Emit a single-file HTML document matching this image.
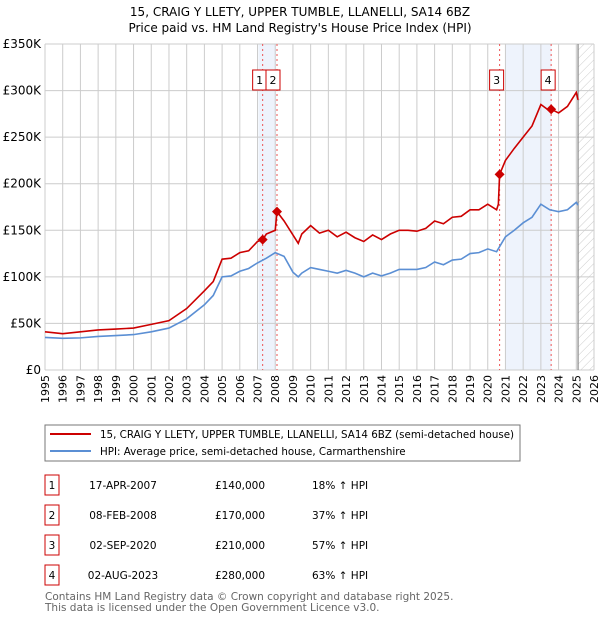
<!DOCTYPE html>
<html><head><meta charset="utf-8"><style>
body{margin:0;background:#fff;width:600px;height:620px;overflow:hidden;font-family:"DejaVu Sans","Liberation Sans",sans-serif}
svg text{font-family:"DejaVu Sans","Liberation Sans",sans-serif}
</style></head><body>
<svg id="chart" width="600" height="620" xmlns="http://www.w3.org/2000/svg">
<defs><pattern id="hatch" width="6" height="6" patternUnits="userSpaceOnUse" patternTransform="rotate(45)"><line x1="0" y1="0" x2="0" y2="6" stroke="#ccc" stroke-width="1"/></pattern></defs>
<text x="300" y="16" text-anchor="middle" font-size="12">15, CRAIG Y LLETY, UPPER TUMBLE, LLANELLI, SA14 6BZ</text>
<text x="300" y="32" text-anchor="middle" font-size="12">Price paid vs. HM Land Registry's House Price Index (HPI)</text>
<g id="plot"></g>
<rect x="45" y="425" width="475" height="36" fill="none" stroke="#777"/>
<line x1="50" y1="434" x2="91" y2="434" stroke="#cc0000" stroke-width="2"/>
<text x="100" y="438" font-size="10.3">15, CRAIG Y LLETY, UPPER TUMBLE, LLANELLI, SA14 6BZ (semi-detached house)</text>
<line x1="50" y1="451" x2="91" y2="451" stroke="#5b8fd4" stroke-width="2"/>
<text x="100" y="455" font-size="10.3">HPI: Average price, semi-detached house, Carmarthenshire</text>
<g id="table" font-size="10.5"></g>
<text x="45" y="600" font-size="10.5" fill="#666">Contains HM Land Registry data © Crown copyright and database right 2025.</text>
<text x="45" y="611" font-size="10.5" fill="#666">This data is licensed under the Open Government Licence v3.0.</text>
</svg>
<script>
const hpiYears=[1995,1996,1997,1998,1999,2000,2001,2002,2003,2004,2004.5,2005,2005.5,2006,2006.5,2007,2007.5,2008,2008.5,2009,2009.3,2009.5,2010,2010.5,2011,2011.5,2012,2012.5,2013,2013.5,2014,2014.5,2015,2015.5,2016,2016.5,2017,2017.5,2018,2018.5,2019,2019.5,2020,2020.5,2021,2021.5,2022,2022.5,2023,2023.5,2024,2024.5,2025,2025.1];
const hpiValues=[35,34,34.5,36,37,38,41,45,55,70,80,100,101,106,109,115,120,126,122,105,100,104,110,108,106,104,107,104,100,104,101,104,108,108,108,110,116,113,118,119,125,126,130,127,143,150,158,164,178,172,170,172,180,177];
const propYears=[1995,1996,1997,1998,1999,2000,2001,2002,2003,2004,2004.5,2005,2005.5,2006,2006.5,2007,2007.29,2007.5,2008,2008.1,2008.5,2009,2009.3,2009.5,2010,2010.5,2011,2011.5,2012,2012.5,2013,2013.5,2014,2014.5,2015,2015.5,2016,2016.5,2017,2017.5,2018,2018.5,2019,2019.5,2020,2020.5,2020.6,2020.67,2021,2021.5,2022,2022.5,2023,2023.5,2023.58,2024,2024.5,2025,2025.1];
const propValues=[41,39,41,43,44,45,49,53,66,85,95,119,120,126,128,138,140,146,150,170,160,145,136,146,155,147,150,143,148,142,138,145,140,146,150,150,149,152,160,157,164,165,172,172,178,172,178,210,225,238,250,262,285,278,280,276,283,298,290];
const saleLabels=["1","2","3","4"];
const saleYears=[2007.29,2008.1,2020.67,2023.58];
const saleValues=[140,170,210,280];
const saleDates=["17-APR-2007","08-FEB-2008","02-SEP-2020","02-AUG-2023"];
const salePrices=["£140,000","£170,000","£210,000","£280,000"];
const saleHpi=["18% ↑ HPI","37% ↑ HPI","57% ↑ HPI","63% ↑ HPI"];
const yTicks=[0,50,100,150,200,250,300,350];
const yTickLabels=["£0","£50K","£100K","£150K","£200K","£250K","£300K","£350K"];
const xTicks=[1995,1996,1997,1998,1999,2000,2001,2002,2003,2004,2005,2006,2007,2008,2009,2010,2011,2012,2013,2014,2015,2016,2017,2018,2019,2020,2021,2022,2023,2024,2025,2026];
const bands=[[2007.05,2008.05],[2021.0,2023.6]];

const X0=45,X1=594,Y0=370,Y1=44;
const xs=y=>X0+(y-1995)/(2026-1995)*(X1-X0);
const ys=v=>Y0-v/350*(Y0-Y1);
const NS="http://www.w3.org/2000/svg";
const g=document.getElementById('plot');
function mk(t,a,p){const e=document.createElementNS(NS,t);for(const k in a)e.setAttribute(k,a[k]);(p||g).appendChild(e);return e;}

bands.forEach((b,i)=>{const r=mk('rect',{x:xs(b[0]),y:Y1,width:xs(b[1])-xs(b[0]),height:Y0-Y1,fill:'#eef3fc'});

});
const hr=mk('rect',{x:xs(2025.1),y:Y1,width:X1-xs(2025.1),height:Y0-Y1,fill:'url(#hatch)'});


xTicks.forEach(t=>{const l=mk('line',{x1:xs(t),x2:xs(t),y1:Y1,y2:Y0,stroke:'#ccc'});


const tx=mk('text',{x:0,y:0,'font-size':11,'text-anchor':'end',transform:`translate(${xs(t)+4},${Y0+5}) rotate(-90)`});
tx.textContent=t;

});
yTicks.forEach((t,i)=>{const l=mk('line',{x1:X0,x2:X1,y1:ys(t),y2:ys(t),stroke:'#ccc'});


const tx=mk('text',{x:X0-4,y:ys(t)+4,'font-size':12,'text-anchor':'end'});
tx.textContent=yTickLabels[i];

});
const vl=mk('line',{x1:xs(2025.1),x2:xs(2025.1),y1:Y1,y2:Y0,stroke:'#888','stroke-width':1.2});


saleYears.forEach((y,i)=>{const l=mk('line',{x1:xs(y),x2:xs(y),y1:Y1,y2:Y0,stroke:'#e55','stroke-dasharray':'2,3'});

});
function line(xa,va,c,name){const p=mk('polyline',{points:xa.map((x,i)=>xs(x)+','+ys(va[i])).join(' '),fill:'none',stroke:c,'stroke-width':1.6});

}
line(hpiYears,hpiValues,'#5b8fd4','hpi-line');
line(propYears,propValues,'#cc0000','property-price-line');
saleYears.forEach((y,i)=>{const cx=xs(y),cy=ys(saleValues[i]);
const d=mk('polygon',{points:`${cx},${cy-5} ${cx+5},${cy} ${cx},${cy+5} ${cx-5},${cy}`,fill:'#cc0000'});


let bx=cx-10; if(i==0)bx=cx-10; if(i==1)bx=cx-11;
const r=mk('rect',{x:bx,y:70,width:14,height:20,fill:'#fff',stroke:'#cc0000'});


const t=mk('text',{x:bx+7,y:84,'font-size':11,'text-anchor':'middle'});
t.textContent=saleLabels[i];

});

const tb=document.getElementById('table');
saleLabels.forEach((s,i)=>{const cy=484+i*30;
const r=mk('rect',{x:45,y:cy-9,width:14,height:20,fill:'#fff',stroke:'#cc0000'},tb);


const vals=[[s,52,'middle'],[saleDates[i],123,'middle'],[salePrices[i],240,'middle'],[saleHpi[i],312,'start']];
vals.forEach((v,j)=>{const t=mk('text',{x:v[1],y:cy+5,'text-anchor':v[2]},tb);
t.textContent=v[0];

});});
</script>
</body></html>
